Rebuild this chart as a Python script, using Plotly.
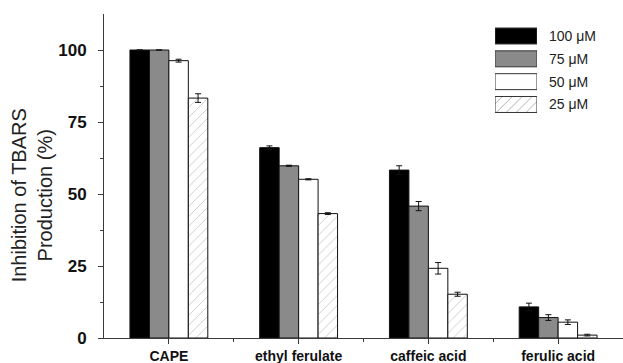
import plotly.graph_objects as go

# Compounds and TBARS inhibition (%) at each concentration
compounds = ["CAPE", "ethyl ferulate", "caffeic acid", "ferulic acid"]
concentrations = ["100 μM", "75 μM", "50 μM", "25 μM"]

inhibition_100 = [100.0, 66.1, 58.3, 10.8]
inhibition_75 = [100.0, 59.8, 45.8, 7.1]
inhibition_50 = [96.3, 55.1, 24.2, 5.5]
inhibition_25 = [83.3, 43.2, 15.2, 1.0]

# standard errors (None where no error bar is drawn)
err_100 = [None, 0.6, 1.5, 1.3]
err_75 = [None, 0.2, 1.6, 1.0]
err_50 = [0.5, 0.2, 2.0, 0.8]
err_25 = [1.5, 0.3, 0.7, 0.3]

y_ticks = [0, 25, 50, 75, 100]

FONT = "Liberation Sans, Arial, sans-serif"
AXIS_COLOR = "#3a3a3a"

styles = [
    dict(color="#000000", shape=""),
    dict(color="#8a8a8a", shape=""),
    dict(color="#ffffff", shape=""),
    dict(color="#ffffff", shape="/"),
]

series = [inhibition_100, inhibition_75, inhibition_50, inhibition_25]
errors = [err_100, err_75, err_50, err_25]
xpos = list(range(len(compounds)))

fig = go.Figure()

for name, vals, errs, st in zip(concentrations, series, errors, styles):
    fig.add_trace(go.Bar(
        x=xpos,
        y=vals,
        name=name,
        marker=dict(
            color=st["color"],
            line=dict(color="#111111", width=1),
            pattern=dict(shape=st["shape"], fgcolor="#8c8c8c", bgcolor="#ffffff",
                         size=7, solidity=0.12),
        ),
        error_y=dict(type="data", array=errs, visible=True, color="#111111",
                     thickness=1, width=3),
        showlegend=False,
    ))

# Legend swatches: a small horizontal bar chart on its own axes
legend_rows = list(range(len(concentrations)))
fig.add_trace(go.Bar(
    x=[1] * len(concentrations),
    y=legend_rows,
    orientation="h",
    width=0.7,
    xaxis="x2",
    yaxis="y2",
    marker=dict(
        color=[s["color"] for s in styles],
        line=dict(color="#333333", width=1),
        pattern=dict(shape=[s["shape"] for s in styles], fgcolor="#8c8c8c",
                     bgcolor="#ffffff", size=7, solidity=0.12),
    ),
    showlegend=False,
    hoverinfo="skip",
))

annotations = []
for row, label in zip(legend_rows, concentrations):
    annotations.append(dict(
        text=label, x=0.8536, xref="paper", y=row, yref="y2",
        xanchor="left", yanchor="middle", showarrow=False,
        font=dict(family=FONT, size=14, color="#222222"),
    ))

# Y axis title as a two-line rotated label
annotations.append(dict(
    text="Inhibition of TBARS<br>Production (%)",
    x=-0.137, xref="paper", y=0.44, yref="paper",
    xanchor="center", yanchor="middle", textangle=-90, showarrow=False,
    font=dict(family=FONT, size=20, color="#222222"),
))

fig.update_layout(
    width=623,
    height=363,
    margin=dict(l=104, r=0, t=14, b=25, autoexpand=False),
    paper_bgcolor="white",
    plot_bgcolor="white",
    barmode="group",
    bargap=0.4,
    bargroupgap=0,
    showlegend=False,
    annotations=annotations,
    font=dict(family=FONT, color="#222222"),
    xaxis=dict(
        range=[-0.5, 3.5],
        tickmode="array",
        tickvals=xpos,
        ticktext=compounds,
        ticks="outside",
        ticklen=5,
        tickcolor=AXIS_COLOR,
        showline=True,
        linecolor=AXIS_COLOR,
        linewidth=1,
        showgrid=False,
        zeroline=False,
        tickfont=dict(family=FONT, size=14, color="#111111", weight="bold"),
        ticklabelstandoff=0,
        minor=dict(tickmode="array", tickvals=[0.5, 1.5, 2.5], ticks="outside",
                   ticklen=3, tickcolor=AXIS_COLOR, showgrid=False),
        fixedrange=True,
    ),
    yaxis=dict(
        range=[0, 112.5],
        tickmode="array",
        tickvals=y_ticks,
        ticks="outside",
        ticklen=5,
        tickcolor=AXIS_COLOR,
        showline=True,
        linecolor=AXIS_COLOR,
        linewidth=1,
        showgrid=False,
        zeroline=False,
        tickfont=dict(family=FONT, size=17, color="#111111", weight="bold"),
        ticklabelstandoff=8,
        minor=dict(tickmode="array", tickvals=[12.5, 37.5, 62.5, 87.5],
                   ticks="outside", ticklen=3, tickcolor=AXIS_COLOR, showgrid=False),
        fixedrange=True,
    ),
    xaxis2=dict(
        domain=[0.7534, 0.8343],
        range=[0, 1],
        anchor="y2",
        visible=False,
        fixedrange=True,
    ),
    yaxis2=dict(
        domain=[0.6855, 0.9673],
        range=[3.5, -0.5],
        anchor="x2",
        visible=False,
        fixedrange=True,
    ),
)

fig.write_html("out.html")
